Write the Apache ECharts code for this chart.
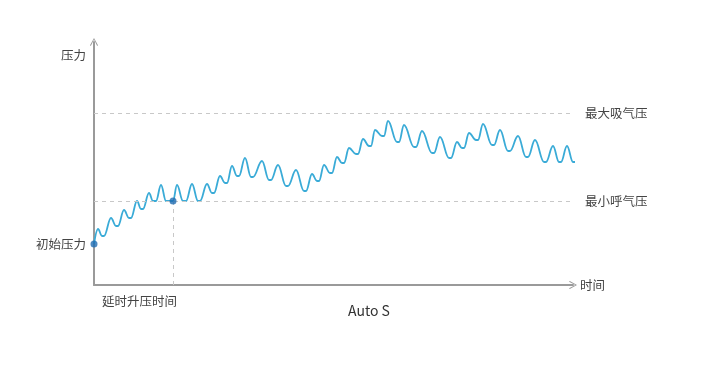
<!DOCTYPE html>
<html>
<head>
<meta charset="utf-8">
<script src="https://cdn.jsdelivr.net/npm/echarts@6/dist/echarts.min.js"></script>
<style>html,body{margin:0;padding:0;background:#fff}#c{width:720px;height:367px}</style>
</head>
<body>
<div id="c"></div>
<script>
// time (arbitrary units) and pressure (arbitrary units)
var times = [0,4,8,10,17,22,24,30,35,37,43,47,49,55,59,62,67,72,79,83,89,92,98,104,106,113,118,120,126,131,133,138,143,145,151,157,159,168,175,177,184,192,194,202,210,212,218,223,225,230,236,238,243,248,250,255,262,264,269,275,277,281,288,290,294,303,305,310,320,322,328,338,340,346,355,357,363,368,370,375,382,384,389,398,400,406,414,416,424,432,434,441,450,452,459,465,467,473,479,484];
var pressures = [41,56,49,49,67,59,59,75,67,67,84,76,76,92,84,84,100,84,84,100,84,84,101,84,84,101,92,92,109,102,102,119,109,109,127,108,108,124,105,105,120,99,99,115,94,94,111,104,104,120,112,112,128,122,122,137,131,131,146,139,139,155,149,149,164,143,143,160,138,138,154,132,132,148,127,127,143,137,137,152,145,145,161,140,140,155,134,134,149,128,128,145,123,123,139,123,123,139,123,123];
var maxInspiratory = 172;   // 最大吸气压
var minExpiratory = 84;     // 最小呼气压
var initialPressure = 41;   // 初始压力
var delayTime = 79;         // 延时升压时间
var timeMax = 479;
var pressureMax = 243;

var waveData = times.map(function (t, i) { return [t, pressures[i]]; });
var chevron = 'path://M0,9 L5,0 L10,9 L9,10 L5,2 L1,10 Z';
var font = '"Noto Sans CJK SC", "Noto Sans", sans-serif';
var fs = 12.5;

var chart = echarts.init(document.getElementById('c'), null, {renderer: 'canvas'});
chart.setOption({
  animation: false,
  textStyle: {fontFamily: font},
  title: {
    text: 'Auto S', left: 343, top: 299,
    textStyle: {fontSize: 14, fontWeight: 'normal', color: '#333', fontFamily: font}
  },
  grid: {left: 94, top: 42, width: 479, height: 243},
  xAxis: {
    type: 'value', min: 0, max: timeMax,
    name: '时间', nameLocation: 'end', nameGap: 7,
    nameTextStyle: {color: '#444', fontSize: fs, verticalAlign: 'middle'},
    axisLine: {lineStyle: {color: '#9a9a9a', width: 2}, symbol: ['none', chevron], symbolSize: [13, 8]},
    axisTick: {show: false},
    splitLine: {show: false},
    axisLabel: {
      customValues: [delayTime], align: 'right', margin: 10, color: '#444', fontSize: fs,
      padding: [0, -4, 0, 0],
      formatter: function () { return '延时升压时间'; }
    }
  },
  yAxis: {
    type: 'value', min: 0, max: pressureMax,
    name: '压力', nameLocation: 'end', nameGap: -13,
    nameTextStyle: {color: '#444', fontSize: fs, align: 'right', verticalAlign: 'middle', padding: [0, 8, 0, 0]},
    axisLine: {lineStyle: {color: '#9a9a9a', width: 2}, symbol: ['none', chevron], symbolSize: [13, 8]},
    axisTick: {show: false},
    splitLine: {show: false},
    axisLabel: {
      customValues: [initialPressure], margin: 8, color: '#444', fontSize: fs,
      formatter: function () { return '初始压力'; }
    }
  },
  series: [
    {
      type: 'line',
      data: waveData,
      clip: false,
      smooth: 0.4,
      smoothMonotone: 'x',
      showSymbol: false,
      lineStyle: {color: '#3aabd7', width: 1.8},
      z: 3,
      markLine: {
        silent: true,
        symbol: ['none', 'none'],
        lineStyle: {color: '#c8c8c8', type: [4, 4], width: 1},
        label: {show: true, position: 'end', distance: 12, color: '#444', fontSize: fs, formatter: '{b}', fontFamily: font},
        data: [
          {yAxis: maxInspiratory, name: '最大吸气压'},
          {yAxis: minExpiratory, name: '最小呼气压'},
          [{coord: [delayTime, minExpiratory], label: {show: false}}, {coord: [delayTime, 0]}]
        ]
      }
    },
    {
      type: 'scatter',
      data: [[0, initialPressure], [delayTime, minExpiratory]],
      symbolSize: 7,
      clip: false,
      itemStyle: {color: '#1f6db3'},
      z: 5
    }
  ]
});
</script>
</body>
</html>
